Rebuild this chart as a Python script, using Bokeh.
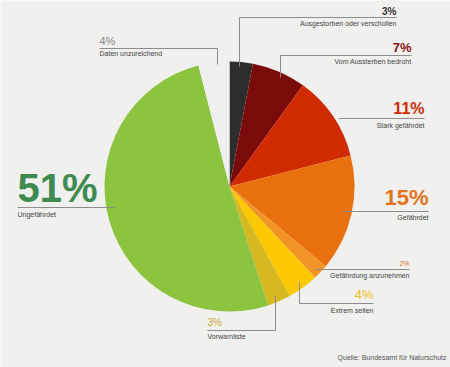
import math
from bokeh.plotting import figure
from bokeh.models import Range1d, ColumnDataSource
from bokeh.core.properties import value
from bokeh.embed import file_html
from bokeh.resources import INLINE

# ---- data ----
categories = ["Ausgestorben oder verschollen", "Vom Aussterben bedroht", "Stark gefährdet",
              "Gefährdet", "Gefährdung anzunehmen", "Extrem selten", "Vorwarnliste",
              "Ungefährdet", "Daten unzureichend"]
values = [3, 7, 11, 15, 2, 4, 3, 51, 4]
pct_labels = ["3%", "7%", "11%", "15%", "2%", "4%", "3%", "51%", "4%"]
source_note = "Quelle: Bundesamt für Naturschutz"

# ---- style ----
BG = "#f0f0ee"
slice_colors = ["#2d2d2d", "#7b0a0a", "#d02a00", "#e8700f", "#f29425", "#fcc800",
                "#d6b820", "#8cc43f", BG]
pct_colors = ["#333333", "#8b1212", "#cc2a00", "#e5731c", "#e07030", "#f2bf1e",
              "#c9a732", "#3e8a50", "#8a8a8a"]
pct_sizes = ["10px", "13px", "16px", "22px", "7px", "13px", "10px", "40px", "11px"]
pct_bold = [True, True, True, True, False, False, False, True, False]

W, H = 450, 367
def fx(X):
    return X
def fy(Y):
    return H - Y

# pie geometry (reference pixels)
CX, CY, R = 229, 186, 125

# layout: label anchors in reference pixels: (align, pct_x, pct_y, label_x, label_y)
layout = [
    ("right", 396, 11, 396, 23),
    ("right", 411, 47, 411, 61),
    ("right", 424, 108, 424, 125),
    ("right", 428, 197, 428, 217),
    ("right", 409, 263, 409, 275),
    ("right", 373, 294, 373, 310),
    ("left", 207, 322, 207, 336),
    ("left", 17, 187, 17, 214),
    ("left", 99, 40, 99, 53),
]
leaders = [
    [(239, 66), (239, 17), (396, 17)],
    [(280, 77), (280, 55), (411, 55)],
    [(338, 118), (424, 118)],
    [(342, 211), (428, 211)],
    [(315, 269), (409, 269)],
    [(299, 282), (299, 303), (373, 303)],
    [(275, 295), (275, 330), (207, 330)],
    [(114, 207), (17, 207)],
    [(217, 64), (217, 48), (99, 48)],
]

p = figure(width=W, height=H, output_backend="svg", toolbar_location=None,
           x_range=Range1d(0, W), y_range=Range1d(0, H), min_border=0)
p.axis.visible = False
p.grid.visible = False
p.outline_line_color = None
p.background_fill_color = BG
p.border_fill_color = BG

# wedges
total = float(sum(values))
starts, ends = [], []
cum = 0.0
for v in values:
    a0 = math.pi / 2 - 2 * math.pi * cum / total
    cum += v
    a1 = math.pi / 2 - 2 * math.pi * cum / total
    starts.append(a1)
    ends.append(a0)
src = ColumnDataSource(dict(x=[fx(CX)] * len(values), y=[fy(CY)] * len(values),
                            start=starts, end=ends, color=slice_colors, cat=categories))
p.wedge(x="x", y="y", radius=R, start_angle="start", end_angle="end",
        direction="anticlock", fill_color="color", line_color=None, source=src)

# leader lines
p.multi_line(xs=[[fx(a) for a, b in seg] for seg in leaders],
             ys=[[fy(b) for a, b in seg] for seg in leaders],
             line_color="#8c8c8c", line_width=1)

# texts
for i, cat in enumerate(categories):
    align, px, py, lx, ly = layout[i]
    p.text(x=[fx(px)], y=[fy(py)], text=[pct_labels[i]], text_align=align,
           text_baseline="middle", text_font=value("Liberation Sans"),
           text_font_style="bold" if pct_bold[i] else "normal",
           text_font_size=pct_sizes[i], text_color=pct_colors[i])
    p.text(x=[fx(lx)], y=[fy(ly)], text=[cat], text_align=align,
           text_baseline="middle", text_font=value("Liberation Sans"),
           text_font_size="7px", text_color="#444444")

p.text(x=[fx(446)], y=[fy(357)], text=[source_note], text_align="right",
       text_baseline="middle", text_font=value("Liberation Sans"),
       text_font_size="7px", text_color="#555555")

open("out.html", "w").write(file_html(p, INLINE))
